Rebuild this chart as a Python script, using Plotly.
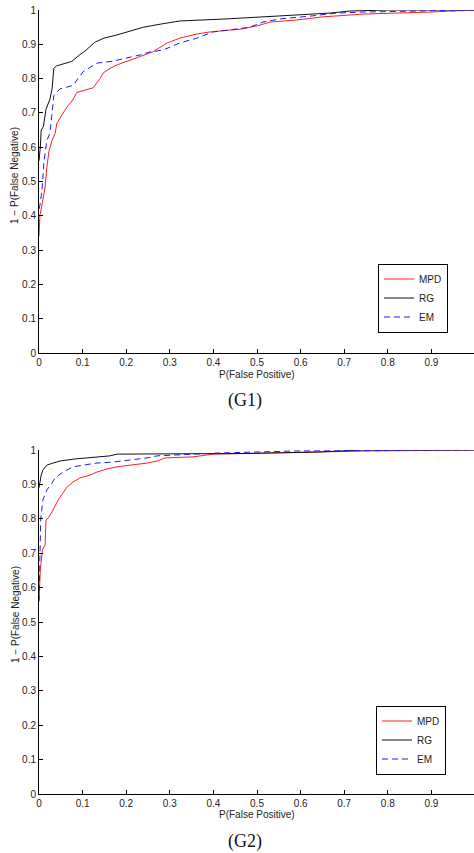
import plotly.graph_objects as go

# ---------------- data ----------------
g1_mpd_fpr = [0, 0.002, 0.005, 0.009, 0.014, 0.018, 0.023, 0.030, 0.037, 0.041, 0.053, 0.064, 0.076, 0.087,
              0.124, 0.14, 0.147, 0.163, 0.179, 0.209, 0.232, 0.261, 0.294, 0.323, 0.362, 0.392, 0.468, 0.507,
              0.530, 0.592, 0.651, 0.743, 0.897, 1.0]
g1_mpd_tpr = [0.34, 0.40, 0.42, 0.446, 0.484, 0.542, 0.59, 0.62, 0.64, 0.67, 0.694, 0.717, 0.735, 0.76,
              0.773, 0.8, 0.816, 0.83, 0.84, 0.854, 0.863, 0.878, 0.904, 0.918, 0.93, 0.936, 0.945, 0.956,
              0.965, 0.971, 0.98, 0.988, 0.994, 1.0]

g1_rg_fpr = [0, 0.003, 0.005, 0.01, 0.016, 0.025, 0.03, 0.034, 0.04, 0.055, 0.075, 0.09, 0.108, 0.128,
             0.149, 0.178, 0.215, 0.24, 0.284, 0.323, 0.43, 0.546, 0.667, 0.713, 0.8, 1.0]
g1_rg_tpr = [0.56, 0.60, 0.65, 0.66, 0.71, 0.74, 0.77, 0.83, 0.837, 0.843, 0.85, 0.866, 0.883, 0.906,
             0.918, 0.927, 0.94, 0.95, 0.96, 0.968, 0.974, 0.983, 0.991, 0.997, 1.0, 1.0]

g1_em_fpr = [0, 0.002, 0.007, 0.011, 0.018, 0.025, 0.030, 0.034, 0.039, 0.048, 0.078, 0.101, 0.133, 0.17,
             0.232, 0.255, 0.284, 0.323, 0.362, 0.399, 0.438, 0.484, 0.514, 0.553, 0.628, 0.683, 0.743,
             0.897, 1.0]
g1_em_tpr = [0.42, 0.43, 0.475, 0.554, 0.62, 0.64, 0.70, 0.75, 0.758, 0.77, 0.78, 0.82, 0.845, 0.851,
             0.869, 0.878, 0.883, 0.904, 0.918, 0.936, 0.942, 0.95, 0.965, 0.974, 0.983, 0.991, 0.994,
             0.997, 1.0]

g2_mpd_fpr = [0, 0.002, 0.003, 0.008, 0.014, 0.016, 0.021, 0.03, 0.037, 0.044, 0.055, 0.064, 0.078, 0.094,
              0.117, 0.133, 0.156, 0.179, 0.209, 0.248, 0.271, 0.289, 0.353, 0.399, 0.484, 0.638, 0.743, 1.0]
g2_mpd_tpr = [0.56, 0.60, 0.651, 0.71, 0.724, 0.797, 0.802, 0.82, 0.84, 0.855, 0.875, 0.892, 0.907, 0.919,
              0.927, 0.936, 0.945, 0.951, 0.956, 0.962, 0.968, 0.977, 0.98, 0.988, 0.99, 0.994, 0.997, 1.0]

g2_rg_fpr = [0, 0.002, 0.005, 0.009, 0.018, 0.032, 0.048, 0.083, 0.117, 0.163, 0.179, 0.479, 0.638, 0.713,
             0.743, 1.0]
g2_rg_tpr = [0.89, 0.904, 0.927, 0.942, 0.956, 0.962, 0.968, 0.974, 0.977, 0.983, 0.988, 0.99, 0.994, 0.997,
             1.0, 1.0]

g2_em_fpr = [0, 0.002, 0.004, 0.009, 0.018, 0.03, 0.037, 0.055, 0.078, 0.101, 0.133, 0.17, 0.209, 0.248,
             0.271, 0.408, 0.583, 1.0]
g2_em_tpr = [0.56, 0.74, 0.80, 0.855, 0.884, 0.904, 0.919, 0.936, 0.951, 0.956, 0.962, 0.965, 0.971, 0.977,
             0.983, 0.991, 0.997, 1.0]

series_names = ["MPD", "RG", "EM"]
tick_vals = [0, 0.1, 0.2, 0.3, 0.4, 0.5, 0.6, 0.7, 0.8, 0.9, 1]
tick_text = ["0", "0.1", "0.2", "0.3", "0.4", "0.5", "0.6", "0.7", "0.8", "0.9", "1"]
x_title = "P(False Positive)"
y_title = "1 \u2212 P(False Negative)"
captions = ["(G1)", "(G2)"]

# ---------------- figure ----------------
W, H = 474, 853
ML = 39
colors = ["#ff2020", "#111111", "#1a1aff"]
dashes = ["solid", "solid", "6px,4px"]

fig = go.Figure()
panels = [
    ([g1_mpd_fpr, g1_rg_fpr, g1_em_fpr], [g1_mpd_tpr, g1_rg_tpr, g1_em_tpr], "x", "y", "legend"),
    ([g2_mpd_fpr, g2_rg_fpr, g2_em_fpr], [g2_mpd_tpr, g2_rg_tpr, g2_em_tpr], "x2", "y2", "legend2"),
]
for xs_list, ys_list, xa, ya, lg in panels:
    for name, xs, ys, c, d in zip(series_names, xs_list, ys_list, colors, dashes):
        fig.add_trace(go.Scatter(x=xs, y=ys, mode="lines", name=name, xaxis=xa, yaxis=ya, legend=lg,
                                 line=dict(color=c, width=1, dash=d)))

def py(p):
    return 1 - p / H

def px(p):
    return (p - ML) / (W - ML)

axis_font = dict(family="Liberation Sans, Arial, sans-serif", size=10, color="#222")
common = dict(showline=True, linecolor="black", linewidth=1, ticks="inside", ticklen=4,
              tickcolor="black", showgrid=False, zeroline=False, mirror=False, automargin=False,
              tickvals=tick_vals, ticktext=tick_text, tickfont=axis_font, fixedrange=True)

xr = [0, (W - ML) / (W - ML + 1)]
fig.update_layout(
    width=W, height=H, margin=dict(l=ML, r=0, t=0, b=0, autoexpand=False),
    paper_bgcolor="white", plot_bgcolor="white",
    xaxis=dict(domain=[0, 1], anchor="y", range=xr, ticklabelstandoff=0, **common),
    yaxis=dict(domain=[py(353), py(10)], anchor="x", range=[0, 1], **common),
    xaxis2=dict(domain=[0, 1], anchor="y2", range=xr, ticklabelstandoff=0, **common),
    yaxis2=dict(domain=[py(794), py(450)], anchor="x2", range=[0, 1], **common),
    legend=dict(x=px(413), y=py(298), xanchor="center", yanchor="middle", bgcolor="white",
                bordercolor="black", borderwidth=1, font=axis_font, itemwidth=30, tracegroupgap=0),
    legend2=dict(x=px(411), y=py(740), xanchor="center", yanchor="middle", bgcolor="white",
                 bordercolor="black", borderwidth=1, font=axis_font, itemwidth=30, tracegroupgap=0),
    showlegend=True,
)

ann = []
for xt_y, yt_y, cap_y, cap in [(374, 176, 400, captions[0]), (814, 615, 841, captions[1])]:
    ann.append(dict(text=x_title, x=px(257), y=py(xt_y), xref="paper", yref="paper", showarrow=False,
                    xanchor="center", yanchor="middle", font=axis_font))
    ann.append(dict(text=y_title, x=px(15), y=py(yt_y), xref="paper", yref="paper", showarrow=False,
                    xanchor="center", yanchor="middle", textangle=-90, font=axis_font))
    ann.append(dict(text=cap, x=px(245), y=py(cap_y), xref="paper", yref="paper", showarrow=False,
                    xanchor="center", yanchor="middle",
                    font=dict(family="Liberation Serif, Times New Roman, serif", size=18, color="#111")))
fig.update_layout(annotations=ann)

fig.write_html("out.html", config={"displayModeBar": False},
               post_script="document.body.style.margin='0';document.body.style.padding='0';"
                           "document.body.style.overflow='hidden';")
